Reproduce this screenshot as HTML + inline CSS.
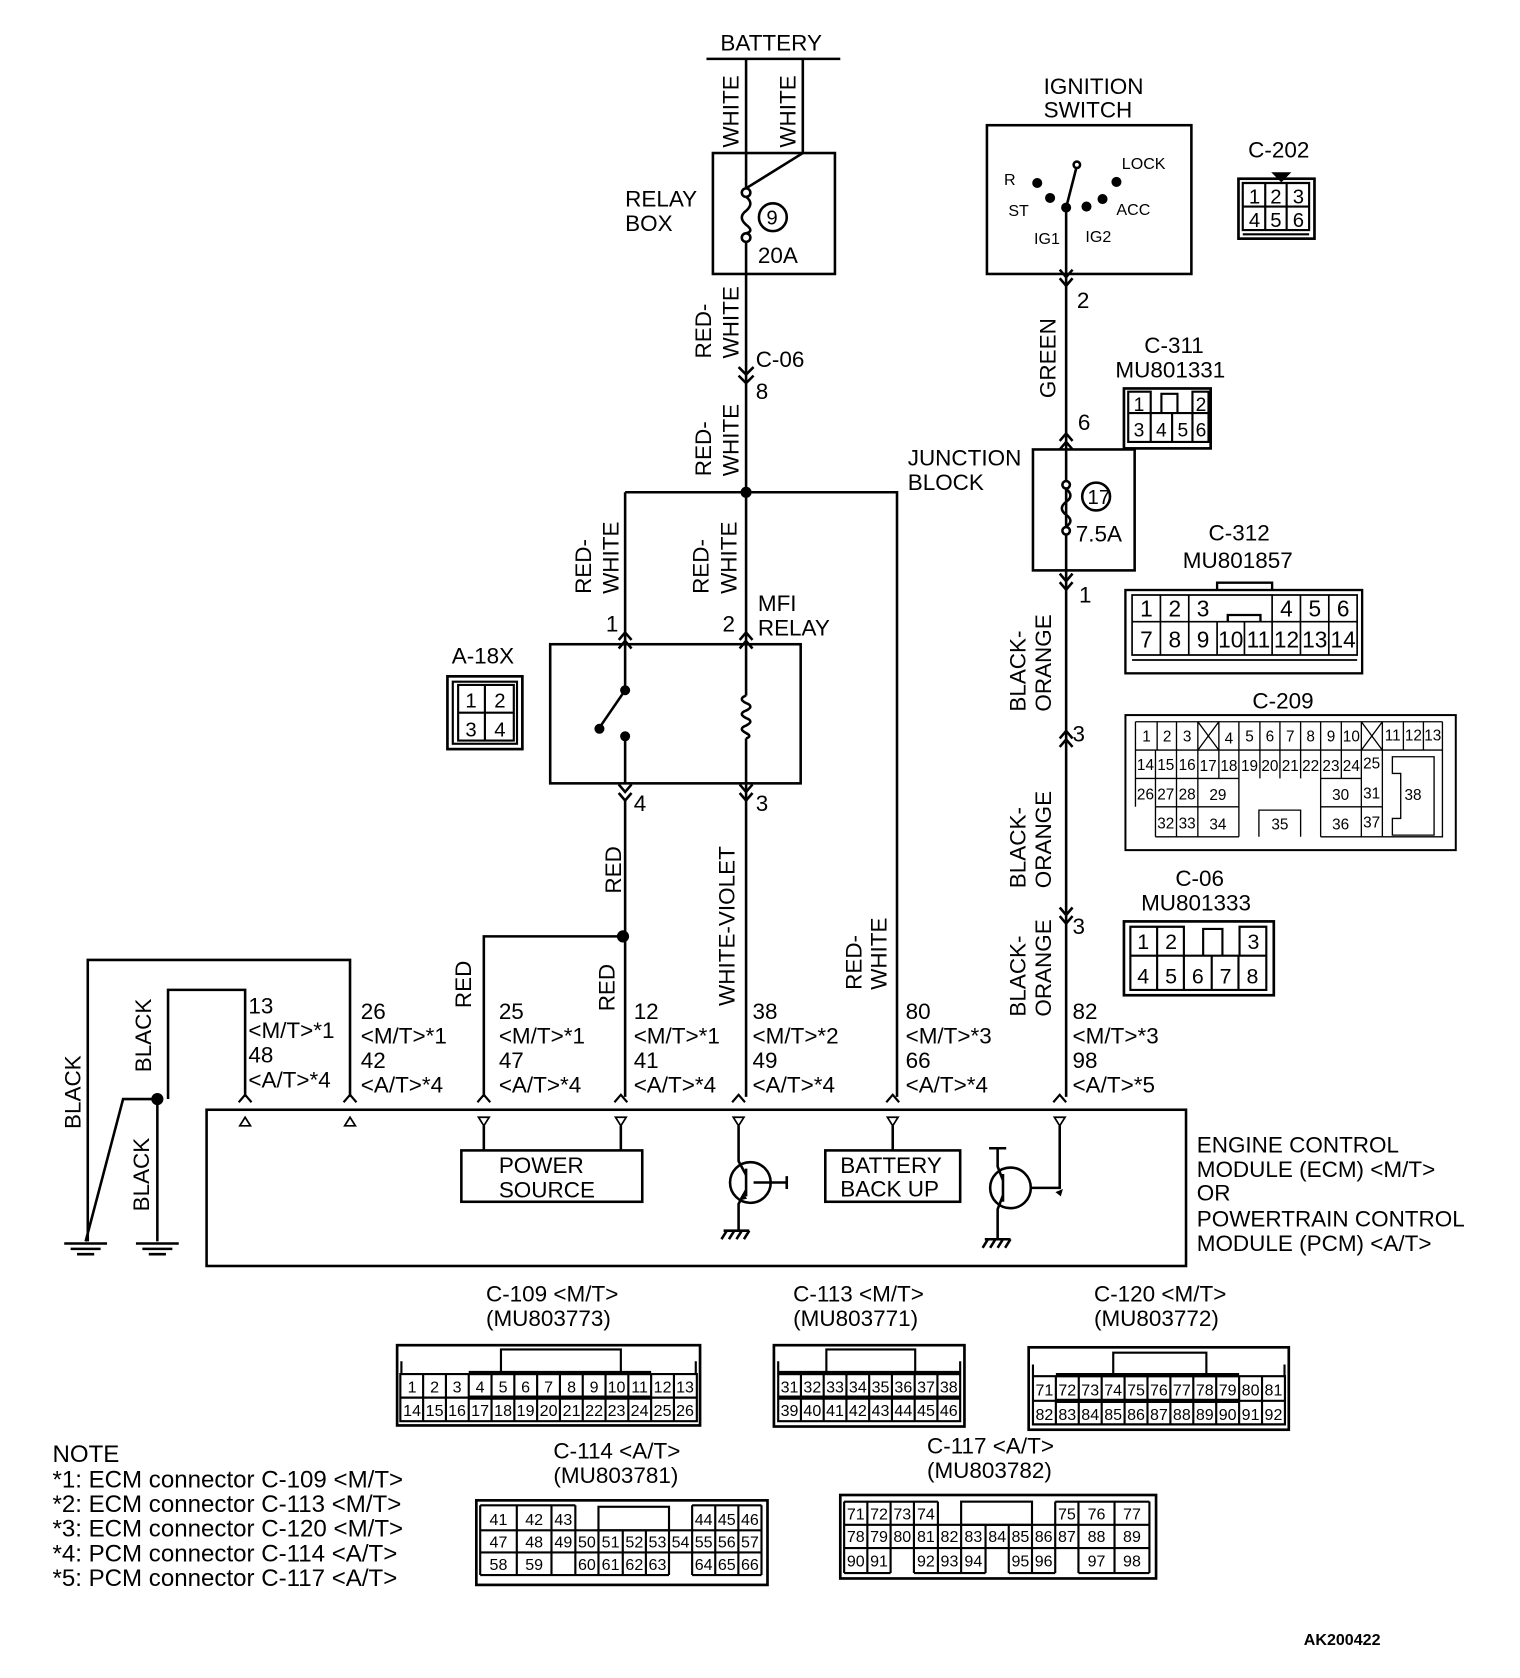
<!DOCTYPE html>
<html><head><meta charset="utf-8"><style>
html,body{margin:0;padding:0;background:#fff}
svg{display:block}
text{font-family:"Liberation Sans",Arial,sans-serif;fill:#000}
</style></head><body>
<svg width="1520" height="1678" viewBox="0 0 1420 1568" preserveAspectRatio="none" xmlns="http://www.w3.org/2000/svg">
<g fill="none" stroke="#000" stroke-width="2.4">
<path d="M660 55H785M697 55V180M750 55V143L697 176"/>
<rect x="666" y="143" width="114" height="113"/>
<circle cx="697" cy="180" r="4" fill="#fff"/><circle cx="697" cy="222" r="4" fill="#fff"/>
<path d="M697 184q8 6 0 13q-8 6 0 13q8 6 0 8"/>
<circle cx="722" cy="203" r="13"/>
<path d="M697 226V600M697 732V1025"/>
<path d="M690 343l7 7 7-7M690 351l7 7 7-7"/>
<path d="M584 460H838V1025M584 460V600"/>
<circle cx="697" cy="460" r="4" fill="#000"/>
<rect x="514" y="602" width="234" height="130"/>
<path d="M578 606l6-7 6 7M578 598l6-7 6 7M691 606l6-7 6 7M691 598l6-7 6 7"/>
<path d="M584 602V645L560 680M584 688V732M697 602V650M697 690V732"/>
<circle cx="584" cy="645" r="3.5" fill="#000"/><circle cx="560" cy="681" r="3.5" fill="#000"/><circle cx="584" cy="688" r="3.5" fill="#000"/>
<path d="M697 650q-8 3 0 7q8 3 0 7q-8 3 0 7q8 3 0 7q-8 3 0 7q6 3 0 5"/>
<path d="M578 733l6 7 6-7M578 741l6 7 6-7M691 733l6 7 6-7M691 741l6 7 6-7"/>
<path d="M584 748V1025M584 875H452V1025"/>
<circle cx="582" cy="875" r="4.5" fill="#000"/>
<rect x="922" y="117" width="191" height="139"/>
<path d="M996 194V1025M996 194L1006 155"/>
<circle cx="1006" cy="154" r="3" fill="#fff"/>
<circle cx="969" cy="171" r="3.5" fill="#000"/><circle cx="981" cy="185" r="3.5" fill="#000"/><circle cx="996" cy="194" r="3.5" fill="#000"/><circle cx="1015" cy="193" r="3.5" fill="#000"/><circle cx="1030" cy="186" r="3.5" fill="#000"/><circle cx="1043" cy="170" r="3.5" fill="#000"/>
<path d="M990 252l6 7 6-7M990 260l6 7 6-7"/>
<path d="M990 412l6-7 6 7M990 420l6-7 6 7"/>
<rect x="965" y="420" width="95" height="113"/>
<circle cx="996" cy="453" r="3.5" fill="#fff"/><circle cx="996" cy="496" r="3.5" fill="#fff"/>
<path d="M996 457q8 6 0 12q-8 6 0 12q8 6 0 11"/>
<circle cx="1024" cy="464" r="13"/>
<path d="M990 536l6 7 6-7M990 544l6 7 6-7"/>
<path d="M990 690l6-7 6 7M990 698l6-7 6 7"/>
<path d="M990 848l6 7 6-7M990 856l6 7 6-7"/>
<rect x="193" y="1037" width="915" height="146"/>
<path d="M229 1025V925H157V1027M327 1025V897H82V1160M147 1027H115L80 1160M147 1027V1160"/>
<circle cx="147" cy="1027" r="4.5" fill="#000"/>
<path d="M60 1162h40M66 1167h28M72 1172h16M127 1162h40M133 1167h28M139 1172h16"/>
<path d="M223 1030l6-7 6 7M321 1030l6-7 6 7M446 1030l6-7 6 7M574 1030l6-7 6 7M684 1030l6-7 6 7M828 1030l6-7 6 7M984 1030l6-7 6 7" stroke-width="2"/>
<path d="M224 1052h10l-5-8zM322 1052h10l-5-8z" stroke-width="1.6"/>
<path d="M447 1044h10l-5 8zM575 1044h10l-5 8zM685 1044h10l-5 8zM829 1044h10l-5 8zM985 1044h10l-5 8z" stroke-width="1.6"/>
<path d="M452 1052V1075M580 1052V1075M834 1052V1075M690 1052V1085L697 1098M990 1052V1110H963"/>
<rect x="431" y="1075" width="169" height="48"/>
<rect x="771" y="1075" width="126" height="48"/>
<circle cx="701" cy="1105" r="19"/>
<path d="M697 1092V1118M697 1112L690 1125V1150M704 1105H735M735 1099V1111"/>
<path d="M676 1150h24M679 1150l-5 8M686 1150l-5 8M693 1150l-5 8M700 1150l-5 8"/>
<circle cx="944" cy="1110" r="19"/>
<path d="M937 1097V1123M937 1103L932 1090V1073M924 1073H940M937 1117L932 1130V1158"/>
<path d="M920 1158h24M923 1158l-5 8M930 1158l-5 8M937 1158l-5 8M944 1158l-5 8"/>
</g>
<g fill="#000" stroke="none">
<path d="M986 1114l7-3-2 7z"/>
<path d="M690 1122l4-7 4 5z"/>
</g>
<g font-size="21">
<text x="673" y="47">BATTERY</text>
<text x="584" y="193">RELAY</text><text x="584" y="216">BOX</text>
<text x="716" y="210" font-size="19">9</text>
<text x="708" y="246">20A</text>
<text x="706" y="343">C-06</text><text x="706" y="373">8</text>
<text x="566" y="590">1</text><text x="675" y="590">2</text>
<text x="708" y="571">MFI</text><text x="708" y="594">RELAY</text>
<text x="592" y="758">4</text><text x="706" y="758">3</text>
<text x="975" y="88">IGNITION</text><text x="975" y="110">SWITCH</text>
<text x="1006" y="288">2</text><text x="1007" y="402">6</text>
<text x="848" y="435">JUNCTION</text><text x="848" y="458">BLOCK</text>
<text x="1016" y="471" font-size="19">17</text>
<text x="1005" y="506">7.5A</text>
<text x="1008" y="563">1</text><text x="1002" y="693">3</text><text x="1002" y="873">3</text>
<text x="1166" y="147">C-202</text>
<text x="1069" y="330">C-311</text><text x="1042" y="353">MU801331</text>
<text x="1129" y="505">C-312</text><text x="1105" y="531">MU801857</text>
<text x="1170" y="662">C-209</text>
<text x="1098" y="828">C-06</text><text x="1066" y="851">MU801333</text>
<text x="422" y="620">A-18X</text>
<g>
<text x="232" y="947">13</text><text x="232" y="970">&lt;M/T&gt;*1</text><text x="232" y="993">48</text><text x="232" y="1016">&lt;A/T&gt;*4</text>
<text x="337" y="952">26</text><text x="337" y="975">&lt;M/T&gt;*1</text><text x="337" y="998">42</text><text x="337" y="1021">&lt;A/T&gt;*4</text>
<text x="466" y="952">25</text><text x="466" y="975">&lt;M/T&gt;*1</text><text x="466" y="998">47</text><text x="466" y="1021">&lt;A/T&gt;*4</text>
<text x="592" y="952">12</text><text x="592" y="975">&lt;M/T&gt;*1</text><text x="592" y="998">41</text><text x="592" y="1021">&lt;A/T&gt;*4</text>
<text x="703" y="952">38</text><text x="703" y="975">&lt;M/T&gt;*2</text><text x="703" y="998">49</text><text x="703" y="1021">&lt;A/T&gt;*4</text>
<text x="846" y="952">80</text><text x="846" y="975">&lt;M/T&gt;*3</text><text x="846" y="998">66</text><text x="846" y="1021">&lt;A/T&gt;*4</text>
<text x="1002" y="952">82</text><text x="1002" y="975">&lt;M/T&gt;*3</text><text x="1002" y="998">98</text><text x="1002" y="1021">&lt;A/T&gt;*5</text>
</g>
<text x="466" y="1096">POWER</text><text x="466" y="1119">SOURCE</text>
<text x="785" y="1096">BATTERY</text><text x="785" y="1118">BACK UP</text>
<text x="1118" y="1077">ENGINE CONTROL</text><text x="1118" y="1100">MODULE (ECM) &lt;M/T&gt;</text><text x="1118" y="1122">OR</text><text x="1118" y="1146">POWERTRAIN CONTROL</text><text x="1118" y="1169">MODULE (PCM) &lt;A/T&gt;</text>
<text x="454" y="1216">C-109 &lt;M/T&gt;</text><text x="454" y="1239">(MU803773)</text>
<text x="741" y="1216">C-113 &lt;M/T&gt;</text><text x="741" y="1239">(MU803771)</text>
<text x="1022" y="1216">C-120 &lt;M/T&gt;</text><text x="1022" y="1239">(MU803772)</text>
<text x="517" y="1363">C-114 &lt;A/T&gt;</text><text x="517" y="1386">(MU803781)</text>
<text x="866" y="1358">C-117 &lt;A/T&gt;</text><text x="866" y="1381">(MU803782)</text>
</g>
<g font-size="22.5">
<text x="49" y="1366">NOTE</text>
<text x="49" y="1390">*1: ECM connector C-109 &lt;M/T&gt;</text>
<text x="49" y="1413">*2: ECM connector C-113 &lt;M/T&gt;</text>
<text x="49" y="1436">*3: ECM connector C-120 &lt;M/T&gt;</text>
<text x="49" y="1459">*4: PCM connector C-114 &lt;A/T&gt;</text>
<text x="49" y="1482">*5: PCM connector C-117 &lt;A/T&gt;</text>
</g>
<text x="1218" y="1537" font-size="15" font-weight="bold">AK200422</text>
<g font-size="15">
<text x="938" y="173">R</text><text x="942" y="202">ST</text><text x="966" y="228">IG1</text><text x="1014" y="226">IG2</text><text x="1048" y="158">LOCK</text><text x="1043" y="201">ACC</text>
</g>
<g font-size="21">
<text transform="translate(690,138) rotate(-90)">WHITE</text>
<text transform="translate(743,138) rotate(-90)">WHITE</text>
<text transform="translate(664,335) rotate(-90)">RED-</text><text transform="translate(690,335) rotate(-90)">WHITE</text>
<text transform="translate(664,445) rotate(-90)">RED-</text><text transform="translate(690,445) rotate(-90)">WHITE</text>
<text transform="translate(552,555) rotate(-90)">RED-</text><text transform="translate(578,555) rotate(-90)">WHITE</text>
<text transform="translate(662,555) rotate(-90)">RED-</text><text transform="translate(688,555) rotate(-90)">WHITE</text>
<text transform="translate(580,835) rotate(-90)">RED</text>
<text transform="translate(440,942) rotate(-90)">RED</text>
<text transform="translate(574,945) rotate(-90)">RED</text>
<text transform="translate(686,940) rotate(-90)">WHITE-VIOLET</text>
<text transform="translate(805,925) rotate(-90)">RED-</text><text transform="translate(828,925) rotate(-90)">WHITE</text>
<text transform="translate(986,372) rotate(-90)">GREEN</text>
<text transform="translate(958,665) rotate(-90)">BLACK-</text><text transform="translate(982,665) rotate(-90)">ORANGE</text>
<text transform="translate(958,830) rotate(-90)">BLACK-</text><text transform="translate(982,830) rotate(-90)">ORANGE</text>
<text transform="translate(958,950) rotate(-90)">BLACK-</text><text transform="translate(982,950) rotate(-90)">ORANGE</text>
<text transform="translate(75,1055) rotate(-90)">BLACK</text>
<text transform="translate(141,1002) rotate(-90)">BLACK</text>
<text transform="translate(139,1132) rotate(-90)">BLACK</text>
</g>

<g fill="none" stroke="#000" stroke-width="2">
<rect x="418" y="632" width="70" height="68" stroke-width="2.5"/><rect x="423" y="637" width="60" height="58"/>
<path d="M428 640H480V692H428ZM428 666H480M453 640V692"/>
</g>
<g font-size="19" text-anchor="middle"><text x="440" y="661">1</text><text x="467" y="661">2</text><text x="440" y="688">3</text><text x="467" y="688">4</text></g>
<g fill="none" stroke="#000" stroke-width="2">
<rect x="1157" y="167" width="71" height="56" stroke-width="2.5"/>
<path d="M1161 171H1223V215H1161ZM1161 193H1223M1182 171V215M1202 171V215M1161 219H1223"/>
<path d="M1190 162H1204L1197 169Z" fill="#000"/>
</g>
<g font-size="19" text-anchor="middle"><text x="1172" y="190">1</text><text x="1192" y="190">2</text><text x="1213" y="190">3</text><text x="1172" y="212">4</text><text x="1192" y="212">5</text><text x="1213" y="212">6</text></g>
<g fill="none" stroke="#000" stroke-width="2">
<rect x="1050" y="363" width="81" height="56" stroke-width="2.5"/>
<path d="M1054 366H1075V386H1054ZM1114 366H1129V386H1114ZM1054 386H1129V413H1054ZM1075 386V413M1095 386V413M1114 386V413M1085 386V368H1100V386"/>
</g>
<g font-size="18" text-anchor="middle"><text x="1064" y="384">1</text><text x="1122" y="384">2</text><text x="1064" y="408">3</text><text x="1085" y="408">4</text><text x="1105" y="408">5</text><text x="1122" y="408">6</text></g>
<g fill="none" stroke="#000" stroke-width="2">
<rect x="1050" y="861" width="140" height="69" stroke-width="2.5"/>
<path d="M1056 866H1106V893H1056ZM1081 866V893M1158 866H1183V893H1158ZM1124 893V868H1142V893M1056 893H1183V925H1056ZM1081 893V925M1106 893V925M1132 893V925M1157 893V925"/>
</g>
<g font-size="20" text-anchor="middle"><text x="1068" y="887">1</text><text x="1094" y="887">2</text><text x="1171" y="887">3</text><text x="1068" y="919">4</text><text x="1094" y="919">5</text><text x="1119" y="919">6</text><text x="1145" y="919">7</text><text x="1170" y="919">8</text></g>

<svg x="1046.7" y="542" width="230.5" height="90.3" viewBox="0 180 740 290" preserveAspectRatio="none" overflow="visible">
<g fill="none" stroke="#000" stroke-width="7">
<rect x="15" y="210" width="710" height="250"/>
<path d="M290 210V188H455V210"/>
<path d="M35 225H710V405H35ZM35 305H290M455 305H710M290 305H455M120 225V405M205 225V405M290 305V405M372 305V405M455 225V405M540 225V405M625 225V405M35 420H710" stroke-width="5"/>
<path d="M322 305V285H420V305"/>
</g>
<g font-size="68" text-anchor="middle">
<text x="78" y="290">1</text><text x="163" y="290">2</text><text x="248" y="290">3</text><text x="498" y="290">4</text><text x="583" y="290">5</text><text x="668" y="290">6</text>
<text x="78" y="382">7</text><text x="163" y="382">8</text><text x="248" y="382">9</text><text x="331" y="382">10</text><text x="414" y="382">11</text><text x="498" y="382">12</text><text x="583" y="382">13</text><text x="668" y="382">14</text>
</g>
</svg>

<svg x="1051.4" y="668.2" width="308.6" height="126.2" viewBox="15 585 990 405" preserveAspectRatio="none" overflow="visible">
<g fill="none" stroke="#000" stroke-width="6">
<rect x="15" y="585" width="990" height="405"/>
<path d="M45 605H965M45 690H785M45 775H232M45 605V860M105 690V950M168 605V950M232 605V950M110 605V690M295 605V775M355 605V950M418 605V775M478 605V775M540 605V775M600 605V950M662 605V775M722 605V950M785 605V950M848 605V690M908 605V690M965 605V690M232 860H355M232 775H355M600 775H722M600 860H785M105 860H232M105 950H355M415 950V870H540V950M600 950H785M785 690H965V950H785M232 605L295 690M295 605L232 690M722 605L785 690M785 605L722 690" stroke-width="4"/>
<path d="M815 710H940V945H815V895H840V760H815Z" stroke-width="4"/>
</g>
<g font-size="46" text-anchor="middle">
<text x="78" y="665">1</text><text x="140" y="665">2</text><text x="200" y="665">3</text><text x="325" y="670">4</text><text x="387" y="665">5</text><text x="448" y="665">6</text><text x="509" y="665">7</text><text x="570" y="665">8</text><text x="631" y="665">9</text><text x="692" y="665">10</text><text x="816" y="662">11</text><text x="878" y="662">12</text><text x="936" y="662">13</text>
<text x="75" y="750">14</text><text x="136" y="750">15</text><text x="200" y="750">16</text><text x="263" y="752">17</text><text x="325" y="752">18</text><text x="387" y="752">19</text><text x="448" y="752">20</text><text x="509" y="752">21</text><text x="570" y="752">22</text><text x="631" y="752">23</text><text x="692" y="752">24</text><text x="753" y="745">25</text>
<text x="75" y="838">26</text><text x="136" y="838">27</text><text x="200" y="838">28</text><text x="292" y="840">29</text><text x="660" y="840">30</text><text x="753" y="835">31</text>
<text x="136" y="925">32</text><text x="200" y="925">33</text><text x="292" y="928">34</text><text x="478" y="928">35</text><text x="660" y="928">36</text><text x="753" y="922">37</text><text x="877" y="840">38</text>
</g>
</svg>

<g fill="none" stroke="#000" stroke-width="2">
<rect x="371" y="1257" width="283" height="75" stroke-width="2.5"/>
<rect x="468" y="1261" width="112" height="22"/>
<path d="M375 1283V1272M650 1283V1272M374 1284H651V1328H374ZM374 1306H651M395.3 1284V1328M416.6 1284V1328M437.9 1284V1328M459.2 1284V1328M480.5 1284V1328M501.8 1284V1328M523.1 1284V1328M544.4 1284V1328M565.7 1284V1328M587 1284V1328M608.3 1284V1328M629.6 1284V1328"/>
<path d="M437.9 1283H608.3M437.9 1306H608.3" stroke-width="4"/>
</g>
<g font-size="15" text-anchor="middle">
<text x="385" y="1301">1</text><text x="406" y="1301">2</text><text x="427" y="1301">3</text><text x="448.5" y="1301">4</text><text x="470" y="1301">5</text><text x="491" y="1301">6</text><text x="512.5" y="1301">7</text><text x="534" y="1301">8</text><text x="555" y="1301">9</text><text x="576" y="1301">10</text><text x="597.5" y="1301">11</text><text x="619" y="1301">12</text><text x="640" y="1301">13</text>
<text x="385" y="1323">14</text><text x="406" y="1323">15</text><text x="427" y="1323">16</text><text x="448.5" y="1323">17</text><text x="470" y="1323">18</text><text x="491" y="1323">19</text><text x="512.5" y="1323">20</text><text x="534" y="1323">21</text><text x="555" y="1323">22</text><text x="576" y="1323">23</text><text x="597.5" y="1323">24</text><text x="619" y="1323">25</text><text x="640" y="1323">26</text>
</g>
<g fill="none" stroke="#000" stroke-width="2">
<rect x="723" y="1257" width="178" height="76" stroke-width="2.5"/>
<rect x="772" y="1261" width="83" height="22"/>
<path d="M727 1283V1272M897 1283V1272M727 1284H897V1328H727ZM727 1306H897M748.25 1284V1328M769.5 1284V1328M790.75 1284V1328M812 1284V1328M833.25 1284V1328M854.5 1284V1328M875.75 1284V1328"/>
<path d="M727 1283H897M727 1306H897" stroke-width="4"/>
</g>
<g font-size="15" text-anchor="middle">
<text x="737.6" y="1301">31</text><text x="758.9" y="1301">32</text><text x="780.1" y="1301">33</text><text x="801.4" y="1301">34</text><text x="822.6" y="1301">35</text><text x="843.9" y="1301">36</text><text x="865.1" y="1301">37</text><text x="886.4" y="1301">38</text>
<text x="737.6" y="1323">39</text><text x="758.9" y="1323">40</text><text x="780.1" y="1323">41</text><text x="801.4" y="1323">42</text><text x="822.6" y="1323">43</text><text x="843.9" y="1323">44</text><text x="865.1" y="1323">45</text><text x="886.4" y="1323">46</text>
</g>
<g fill="none" stroke="#000" stroke-width="2">
<rect x="961" y="1259" width="243" height="77" stroke-width="2.5"/>
<rect x="1040" y="1264" width="87" height="21"/>
<path d="M965 1286V1275M1200 1286V1275M965 1286H1200.4V1331H965ZM965 1309H1200.4M986.4 1286V1331M1007.8 1286V1331M1029.2 1286V1331M1050.6 1286V1331M1072 1286V1331M1093.4 1286V1331M1114.8 1286V1331M1136.2 1286V1331M1157.6 1286V1331M1179 1286V1331"/>
<path d="M986.4 1285H1157.6M986.4 1309H1157.6" stroke-width="4"/>
</g>
<g font-size="15" text-anchor="middle">
<text x="975.7" y="1304">71</text><text x="997.1" y="1304">72</text><text x="1018.5" y="1304">73</text><text x="1039.9" y="1304">74</text><text x="1061.3" y="1304">75</text><text x="1082.7" y="1304">76</text><text x="1104.1" y="1304">77</text><text x="1125.5" y="1304">78</text><text x="1146.9" y="1304">79</text><text x="1168.3" y="1304">80</text><text x="1189.7" y="1304">81</text>
<text x="975.7" y="1327">82</text><text x="997.1" y="1327">83</text><text x="1018.5" y="1327">84</text><text x="1039.9" y="1327">85</text><text x="1061.3" y="1327">86</text><text x="1082.7" y="1327">87</text><text x="1104.1" y="1327">88</text><text x="1125.5" y="1327">89</text><text x="1146.9" y="1327">90</text><text x="1168.3" y="1327">91</text><text x="1189.7" y="1327">92</text>
</g>
<g fill="none" stroke="#000" stroke-width="2">
<rect x="445" y="1402" width="272" height="79" stroke-width="2.5"/>
<path d="M448.6 1406.6H537.5M646.6 1406.6H711.4M448.6 1430H711.4M448.6 1450.7H711.4M448.6 1471.8H537.5M448.6 1406.6V1471.8M482.8 1406.6V1471.8M515.2 1406.6V1471.8M537.5 1406.6V1471.8M559.1 1430V1471.8M581.8 1430V1471.8M603.4 1430V1471.8M625 1430V1471.8M646.6 1406.6V1471.8M668.2 1406.6V1471.8M689.8 1406.6V1471.8M711.4 1406.6V1471.8M537.5 1471.8H625M646.6 1471.8H711.4M515.2 1450.7V1471.8"/>
<rect x="559.1" y="1408" width="65.9" height="22"/>
</g>
<g font-size="15" text-anchor="middle">
<text x="465.7" y="1425">41</text><text x="499" y="1425">42</text><text x="526.3" y="1425">43</text><text x="657.4" y="1425">44</text><text x="679" y="1425">45</text><text x="700.6" y="1425">46</text>
<text x="465.7" y="1446">47</text><text x="499" y="1446">48</text><text x="526.3" y="1446">49</text><text x="548.3" y="1446">50</text><text x="570.4" y="1446">51</text><text x="592.6" y="1446">52</text><text x="614.2" y="1446">53</text><text x="635.8" y="1446">54</text><text x="657.4" y="1446">55</text><text x="679" y="1446">56</text><text x="700.6" y="1446">57</text>
<text x="465.7" y="1467">58</text><text x="499" y="1467">59</text><text x="548.3" y="1467">60</text><text x="570.4" y="1467">61</text><text x="592.6" y="1467">62</text><text x="614.2" y="1467">63</text><text x="657.4" y="1467">64</text><text x="679" y="1467">65</text><text x="700.6" y="1467">66</text>
</g>
<g fill="none" stroke="#000" stroke-width="2">
<rect x="785" y="1397" width="295" height="78" stroke-width="2.5"/>
<path d="M788.6 1403.2H876.2M985.8 1403.2H1073.8M788.6 1424.9H1073.8M788.6 1446.6H1073.8M788.6 1469.9H832M853.8 1469.9H920.7M942.4 1469.9H985.8M1007.5 1469.9H1073.8M788.6 1403.2V1469.9M810.3 1403.2V1469.9M832 1403.2V1469.9M853.8 1403.2V1469.9M876.2 1424.9V1469.9M897.9 1424.9V1469.9M920.7 1424.9V1469.9M942.4 1424.9V1469.9M964.1 1424.9V1469.9M985.8 1403.2V1469.9M1007.5 1403.2V1469.9M1041.2 1403.2V1469.9M1073.8 1403.2V1469.9M876.2 1403.2V1424.9"/>
<rect x="897.9" y="1403.2" width="66.2" height="21.7"/>
</g>
<g font-size="15" text-anchor="middle">
<text x="799.5" y="1420">71</text><text x="821.2" y="1420">72</text><text x="842.9" y="1420">73</text><text x="865" y="1420">74</text><text x="996.7" y="1420">75</text><text x="1024.4" y="1420">76</text><text x="1057.5" y="1420">77</text>
<text x="799.5" y="1441">78</text><text x="821.2" y="1441">79</text><text x="842.9" y="1441">80</text><text x="865" y="1441">81</text><text x="887" y="1441">82</text><text x="909.3" y="1441">83</text><text x="931.6" y="1441">84</text><text x="953.3" y="1441">85</text><text x="975" y="1441">86</text><text x="996.7" y="1441">87</text><text x="1024.4" y="1441">88</text><text x="1057.5" y="1441">89</text>
<text x="799.5" y="1464">90</text><text x="821.2" y="1464">91</text><text x="865" y="1464">92</text><text x="887" y="1464">93</text><text x="909.3" y="1464">94</text><text x="953.3" y="1464">95</text><text x="975" y="1464">96</text><text x="1024.4" y="1464">97</text><text x="1057.5" y="1464">98</text>
</g>
</svg>
</body></html>
